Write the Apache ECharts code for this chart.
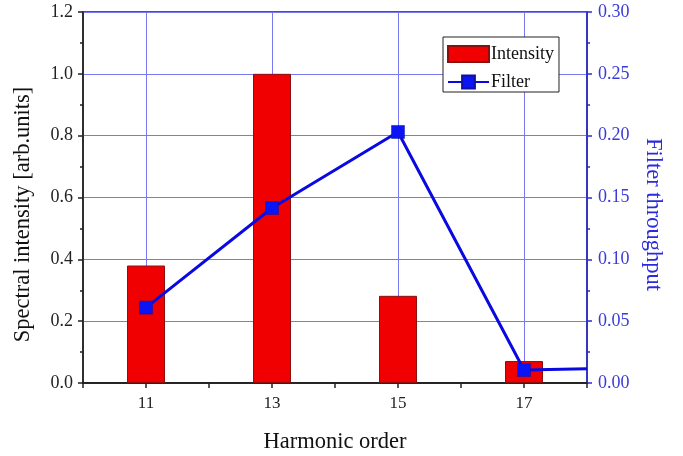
<!DOCTYPE html>
<html><head><meta charset="utf-8">
<script src="https://cdn.jsdelivr.net/npm/echarts@6/dist/echarts.min.js"></script>
<style>html,body{margin:0;padding:0;background:#fff}#c{width:683px;height:456px}</style>
</head><body><div id="c"></div>
<script>
const harmonics = [11, 13, 15, 17];
const intensity = [0.38, 1.0, 0.282, 0.071];
const filterX = [11, 13, 15, 17, 18];
const filterY = [0.061, 0.1415, 0.203, 0.0105, 0.0116];
const leftTicks = [0, 0.2, 0.4, 0.6, 0.8, 1.0, 1.2];
const rightTicks = [0, 0.05, 0.1, 0.15, 0.2, 0.25, 0.3];

const F = 'Liberation Serif, Times New Roman, serif';
const gridBlue = '#7878f0';
const axisBlue = '#2a2ae0';
const chart = echarts.init(document.getElementById('c'));
chart.setOption({
  animation: false,
  grid: {left: 83, right: 96, top: 12, bottom: 73, outerBoundsMode: 'none', containLabel: false,
    show: true, borderColor: '#222', borderWidth: 1.5, backgroundColor: 'transparent'},
  legend: {
    left: 443, top: 37, orient: 'vertical', backgroundColor: '#fff',
    borderColor: '#222', borderWidth: 1, padding: [8, 5, 1, 4], itemGap: 10,
    itemWidth: 41, itemHeight: 16,
    textStyle: {fontFamily: F, fontSize: 18, color: '#111', padding: [0, 0, 0, -3]},
    data: [{name: 'Intensity', icon: 'rect'}, {name: 'Filter'}]
  },
  xAxis: [{
    type: 'value', min: 10, max: 18, interval: 1, position: 'bottom',
    name: 'Harmonic order', nameLocation: 'middle', nameGap: 48,
    nameTextStyle: {fontFamily: F, fontSize: 22.5, color: '#111'},
    axisLine: {lineStyle: {color: '#222', width: 1.5}},
    axisTick: {interval: 0, length: 5, lineStyle: {color: '#222', width: 1.5}},
    axisLabel: {interval: 0, fontFamily: F, fontSize: 17, color: '#222', margin: 12,
      formatter: v => harmonics.indexOf(v) >= 0 ? String(v) : ''},
    splitLine: {show: true, interval: 0, lineStyle: {color: ['transparent', gridBlue], width: 1}}
  }, {
    type: 'value', min: 10, max: 18, interval: 1, position: 'top',
    axisLine: {show: true, lineStyle: {color: '#222', width: 1.5}},
    axisTick: {show: true, interval: 0, inside: true, length: 4, lineStyle: {color: '#222', width: 1.5}},
    axisLabel: {show: false}, splitLine: {show: false}
  }],
  yAxis: [{
    type: 'value', min: 0, max: 1.2, interval: 0.2,
    name: 'Spectral intensity [arb.units]', nameLocation: 'middle', nameGap: 48, nameRotate: 90,
    nameTextStyle: {fontFamily: F, fontSize: 22.5, color: '#111', padding: [0, 34, 0, 0]},
    axisLine: {show: true, lineStyle: {color: '#222', width: 1.5}},
    axisTick: {show: true, length: 5, lineStyle: {color: '#222', width: 1.5}},
    minorTick: {show: true, splitNumber: 2, length: 3, lineStyle: {color: '#222', width: 1.5}},
    axisLabel: {fontFamily: F, fontSize: 18, color: '#222', margin: 10, formatter: v => v.toFixed(1)},
    splitLine: {show: true, lineStyle: {color: gridBlue, width: 1}}
  }, {
    type: 'value', min: 0, max: 0.3, interval: 0.05, position: 'right',
    name: 'Filter throughput', nameLocation: 'middle', nameGap: 54, nameRotate: -90,
    nameTextStyle: {fontFamily: F, fontSize: 22.5, color: axisBlue, padding: [0, 0, 0, 34]},
    axisLine: {show: true, lineStyle: {color: axisBlue, width: 1.5}},
    axisTick: {show: true, length: 5, lineStyle: {color: axisBlue, width: 1.5}},
    minorTick: {show: true, splitNumber: 2, length: 3, lineStyle: {color: axisBlue, width: 1.5}},
    axisLabel: {fontFamily: F, fontSize: 18, color: '#3a3ad8', margin: 11, formatter: v => v.toFixed(2)},
    splitLine: {show: false}
  }],
  series: [{
    name: 'Intensity', type: 'bar', xAxisIndex: 0, yAxisIndex: 0, barWidth: 38,
    itemStyle: {color: '#f00000', borderColor: '#8a1010', borderWidth: 1},
    data: harmonics.map((h, i) => [h, intensity[i]])
  }, {
    name: 'Filter', type: 'line', xAxisIndex: 0, yAxisIndex: 1,
    symbol: 'rect', symbolSize: 13,
    lineStyle: {color: '#0a0ae0', width: 3},
    itemStyle: {color: '#0a14f5', borderColor: '#1010a0', borderWidth: 0.5},
    data: filterX.map((x, i) => ({value: [x, filterY[i]], symbolSize: i === filterX.length - 1 ? 0 : 13}))
  }]
});
</script></body></html>
